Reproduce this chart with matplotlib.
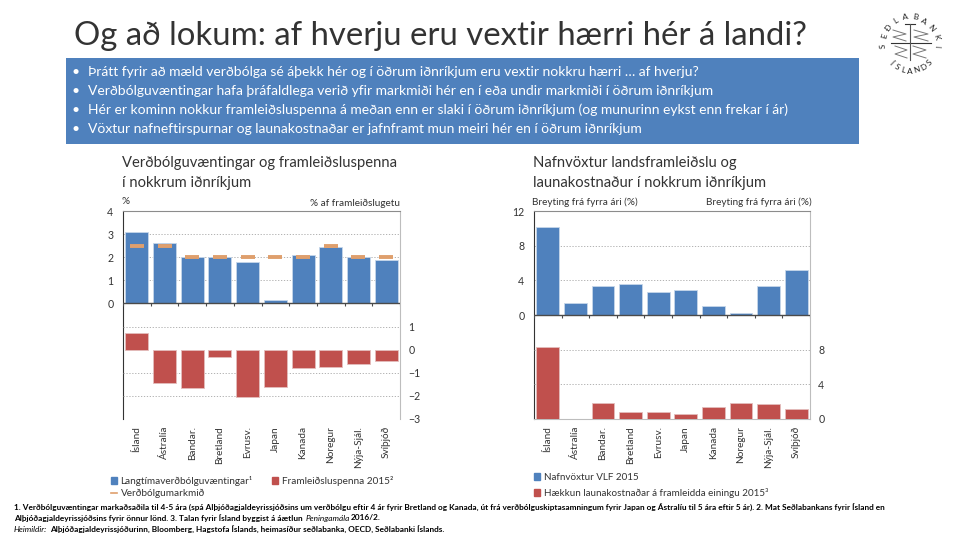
import math
import matplotlib
matplotlib.use('Agg')
import matplotlib.pyplot as plt
from matplotlib.patches import Rectangle, Patch
from matplotlib.lines import Line2D

plt.rcParams['font.family'] = ['Lato', 'DejaVu Sans']

countries = ['Ísland', 'Ástralía', 'Bandar.', 'Bretland', 'Evrusv.', 'Japan',
             'Kanada', 'Noregur', 'Nýja-Sjál.', 'Svíþjóð']
expectations = [3.1, 2.6, 2.0, 2.0, 1.8, 0.13, 2.1, 2.45, 2.0, 1.9]
targets = [2.5, 2.5, 2.0, 2.0, 2.0, 2.0, 2.0, 2.5, 2.0, 2.0]
output_gap = [0.7, -1.45, -1.65, -0.3, -2.05, -1.6, -0.8, -0.75, -0.6, -0.5]
nominal_gdp = [10.1, 1.35, 3.4, 3.6, 2.65, 2.9, 1.05, 0.25, 3.4, 5.2]
labour_cost = [8.3, float('nan'), 1.85, 0.8, 0.8, 0.6, 1.4, 1.8, 1.7, 1.2]

left_ticks = [0, 1, 2, 3, 4]
left_ticks_r = [-3, -2, -1, 0, 1]
right_ticks = [0, 4, 8, 12]
right_ticks_r = [0, 4, 8]

main_title = 'Og að lokum: af hverju eru vextir hærri hér á landi?'
bullets = [
    'Þrátt fyrir að mæld verðbólga sé áþekk hér og í öðrum iðnríkjum eru vextir nokkru hærri … af hverju?',
    'Verðbólguvæntingar hafa þráfaldlega verið yfir markmiði hér en í eða undir markmiði í öðrum iðnríkjum',
    'Hér er kominn nokkur framleiðsluspenna á meðan enn er slaki í öðrum iðnríkjum (og munurinn eykst enn frekar í ár)',
    'Vöxtur nafneftirspurnar og launakostnaðar er jafnframt mun meiri hér en í öðrum iðnríkjum',
]

BLUE = '#4F81BD'
RED = '#C0504D'
ORANGE = '#DF9F6D'
TEXT = '#333333'
GRID = '#A6A6A6'

fig = plt.figure(figsize=(9.6, 5.4), dpi=100)

# pixel canvas for everything that is not a chart
bg = fig.add_axes([0, 0, 1, 1])
bg.set_xlim(0, 960)
bg.set_ylim(540, 0)
bg.axis('off')


def panel(x0, y0, x1, y1):
    return fig.add_axes([x0 / 960, 1 - y1 / 540, (x1 - x0) / 960, (y1 - y0) / 540])


def draw_chart(box, top, top_lim, top_ticks, bottom, bottom_lim, bottom_ticks, tick_len):
    ax = panel(*box)
    ax.patch.set_visible(False)
    x = list(range(len(countries)))
    ax.bar(x, top, width=0.83, color=BLUE, edgecolor='#C6D6EA', linewidth=0.6, zorder=3)
    ax.set_xlim(-0.5, 9.5)
    ax.set_ylim(*top_lim)
    ax.set_yticks(top_ticks)
    ax.set_xticks(x)
    ax.set_xticklabels(countries, rotation=90, fontsize=7.2, color=TEXT)
    ax.tick_params(axis='x', length=0, pad=5)
    ax.tick_params(axis='y', length=0, pad=7, labelsize=7.6, labelcolor=TEXT)
    ax.grid(axis='y', color=GRID, linestyle=(0, (1.5, 2)), linewidth=0.6, zorder=1)
    ax.axhline(0, color='#4A4A4A', linewidth=1, zorder=4)
    ax.vlines([i - 0.5 for i in range(len(countries) + 1)], -tick_len, 0,
              color='#4A4A4A', linewidth=0.8, zorder=4)
    ax.spines['left'].set_color('#333333')
    ax.spines['right'].set_color('#BDBDBD')
    ax.spines['top'].set_color('#8C8C8C')
    ax.spines['bottom'].set_visible(False)

    ax2 = ax.twinx()
    ax2.bar(x, bottom, width=0.83, color=RED, edgecolor='#E3BDBC', linewidth=0.6, zorder=3)
    ax2.set_ylim(*bottom_lim)
    ax2.set_yticks(bottom_ticks)
    ax2.tick_params(axis='y', length=0, pad=6, labelsize=7.6, labelcolor=TEXT)
    ax2.grid(axis='y', color=GRID, linestyle=(0, (1.5, 2)), linewidth=0.6, zorder=1)
    for line, v in zip(ax2.get_ygridlines(), bottom_ticks):
        if v in (0, bottom_lim[0]):
            line.set_visible(False)
    for s in ax2.spines.values():
        s.set_visible(False)
    return ax, ax2


# left chart
ax, ax2 = draw_chart((123, 211, 400, 419), expectations, (-5, 4), left_ticks,
                     output_gap, (-3, 6), left_ticks_r, 0.1)
ax.plot(range(len(countries)), targets, linestyle='none', marker='_', markersize=10,
        markeredgewidth=2.8, color=ORANGE, zorder=5)
for line, v in zip(ax.get_ygridlines(), left_ticks):
    if v in (0, 4):
        line.set_visible(False)
ax.legend(handles=[Patch(color=BLUE, label='Langtímaverðbólguvæntingar¹'),
                   Line2D([], [], color=ORANGE, lw=1.2, label='Verðbólgumarkmið'),
                   Patch(color=RED, label='Framleiðsluspenna 2015²')],
          ncol=2, loc='upper left', bbox_to_anchor=(-0.045, -0.274), frameon=False,
          fontsize=7.2, labelcolor=TEXT, handlelength=0.6, handleheight=0.7,
          handletextpad=0.4, columnspacing=1.9, labelspacing=0.3,
          borderpad=0, borderaxespad=0)

# right chart
ax3, ax4 = draw_chart((534, 211, 810, 419), nominal_gdp, (-12, 12), right_ticks,
                      labour_cost, (0, 24), right_ticks_r, 0.3)
for line, v in zip(ax3.get_ygridlines(), right_ticks):
    if v in (0, 12):
        line.set_visible(False)
ax3.spines['bottom'].set_visible(True)
ax3.spines['bottom'].set_color('#BDBDBD')
ax3.legend(handles=[Patch(color=BLUE, label='Nafnvöxtur VLF 2015'),
                    Patch(color=RED, label='Hækkun launakostnaðar á framleidda einingu 2015³')],
           loc='upper left', bbox_to_anchor=(0.0, -0.26), frameon=False,
           fontsize=7.15, labelcolor=TEXT, handlelength=0.6, handleheight=0.7,
           handletextpad=0.4, labelspacing=0.6, borderpad=0, borderaxespad=0)

# heading and bullet box
bg.text(74, 36, main_title, fontsize=23.7, color='#333333', va='center')
bg.add_patch(Rectangle((66, 58), 793, 86, color=BLUE, linewidth=0))
for y, line in zip([72, 91, 110, 129], bullets):
    bg.text(76, y, '•', fontsize=10, color='white', va='center', ha='center')
    bg.text(88, y, line, fontsize=10, color='white', va='center')

# chart headings and axis captions
bg.text(122, 163, 'Verðbólguvæntingar og framleiðsluspenna', fontsize=10.6, color='#333333', va='center')
bg.text(122, 183, 'í nokkrum iðnríkjum', fontsize=10.6, color='#333333', va='center')
bg.text(533, 163, 'Nafnvöxtur landsframleiðslu og', fontsize=10.6, color='#333333', va='center')
bg.text(533, 183, 'launakostnaður í nokkrum iðnríkjum', fontsize=10.6, color='#333333', va='center')
bg.text(121, 202, '%', fontsize=7.2, color=TEXT, va='center')
bg.text(400, 203, '% af framleiðslugetu', fontsize=7.2, color=TEXT, va='center', ha='right')
bg.text(532, 202, 'Breyting frá fyrra ári (%)', fontsize=7.2, color=TEXT, va='center')
bg.text(812, 202, 'Breyting frá fyrra ári (%)', fontsize=7.2, color=TEXT, va='center', ha='right')

# footnotes
foot1 = ('1. Verðbólguvæntingar markaðsaðila til 4-5 ára (spá Alþjóðagjaldeyrissjóðsins um verðbólgu eftir 4 ár '
         'fyrir Bretland og Kanada, út frá verðbólguskiptasamningum fyrir Japan og Ástralíu til 5 ára eftir 5 ár). '
         '2. Mat Seðlabankans fyrir Ísland en')
bg.text(14, 507, foot1, fontsize=5.95, color='black', va='center', fontweight='bold')
bg.text(14, 518, 'Alþjóðagjaldeyrissjóðsins fyrir önnur lönd. 3. Talan fyrir Ísland byggist á áætlun',
        fontsize=5.95, color='black', va='center', fontweight='bold')
bg.text(306, 518, 'Peningamála', fontsize=5.95, color='black', va='center', style='italic')
bg.text(351, 518, '2016/2.', fontsize=5.95, color='black', va='center', fontweight='bold')
bg.text(14, 529, 'Heimildir:', fontsize=5.95, color='black', va='center', style='italic')
bg.text(50, 529, 'Alþjóðagjaldeyrissjóðurinn, Bloomberg, Hagstofa Íslands, heimasíður seðlabanka, OECD, Seðlabanki Íslands.',
        fontsize=5.95, color='black', va='center', fontweight='bold')

# bank seal, top right
cx, cy, r = 910, 44, 27
top_word = 'SEÐLABANKI'
for i, ch in enumerate(top_word):
    a = -95 + i * 190 / (len(top_word) - 1)
    bg.text(cx + r * math.sin(math.radians(a)), cy - r * math.cos(math.radians(a)), ch,
            fontsize=6, rotation=-a, ha='center', va='center', color='#222222')
low_word = 'ÍSLANDS'
for i, ch in enumerate(low_word):
    a = -45 + i * 90 / (len(low_word) - 1)
    bg.text(cx + r * math.sin(math.radians(a)), cy + r * math.cos(math.radians(a)), ch,
            fontsize=6, rotation=a, ha='center', va='center', color='#222222')
bg.plot([891, 931], [43, 43], color='#333333', lw=0.8)
bg.plot([905, 915], [24, 24], color='#333333', lw=0.8)
bg.plot([910, 910], [24, 60], color='#555555', lw=0.8)
for x0, x1, y0, y1 in [(893, 906, 30, 41), (914, 928, 30, 41), (895, 907, 46, 58), (913, 926, 46, 58)]:
    bg.plot([x0, x1, x0, x1], [y0, y0 + 4, y1 - 4, y1], color='#777777', lw=0.7)

fig.savefig('out.png', dpi=100)
